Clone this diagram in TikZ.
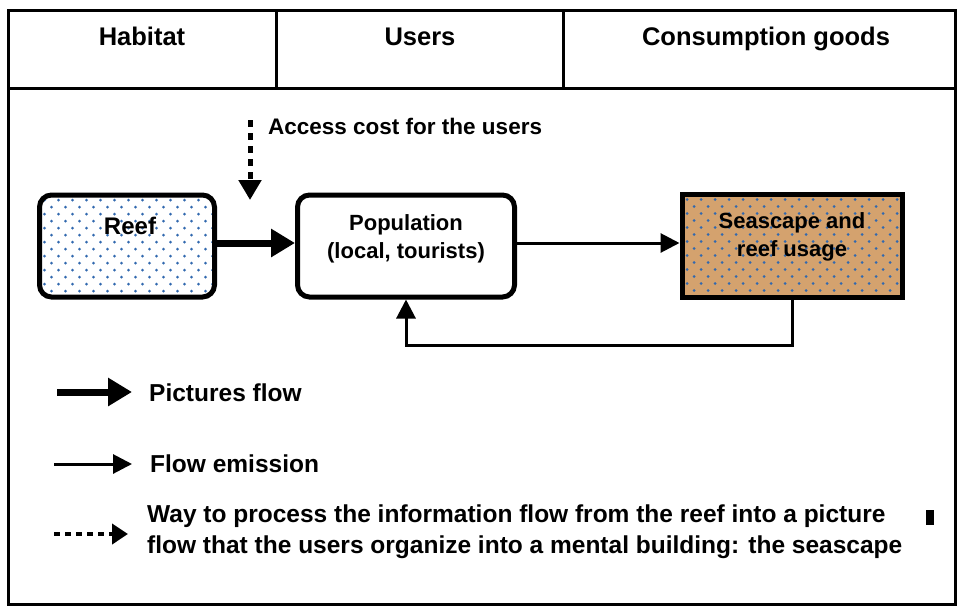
\documentclass[tikz,border=0pt]{standalone}
\usepackage{fontspec}
\setmainfont{Liberation Sans}
\usetikzlibrary{arrows.meta}
\definecolor{sand}{RGB}{212,162,110}
\definecolor{dotblue}{RGB}{50,105,175}
\begin{document}
\begin{tikzpicture}[x=1pt,y=-1pt,
  frameline/.style={line width=3pt},
  headtext/.style={font=\bfseries\fontsize{25.5}{30}\selectfont, inner sep=0pt, anchor=base},
  boxtext/.style={font=\bfseries\fontsize{22}{28}\selectfont, align=center, inner sep=0pt},
  legendtext/.style={font=\bfseries\fontsize{24.5}{31}\selectfont, align=left, anchor=west, inner sep=0pt},
  stipple/.style={path picture={
    \foreach \j in {0,...,16}{
      \foreach \i in {0,...,17}{
        \fill[dotblue] ([xshift={(\i*14+mod(\j,2)*7+5)*1pt}, yshift={-(\j*7+5)*1pt}]path picture bounding box.north west) circle (1.5pt);
      }
    }
  }},
  roundbox/.style={draw, line width=5pt, rounded corners=12pt},
  squarebox/.style={draw, line width=5pt},
  picflow/.style={line width=7pt, -{Triangle[length=24pt,width=27pt]}},
  emission/.style={line width=3pt, -{Triangle[length=19pt,width=19pt]}},
  process/.style={line width=5pt, dash pattern=on 7pt off 6pt, -{Triangle[length=20pt,width=22pt]}},
  processkey/.style={line width=4pt, dash pattern=on 6pt off 5pt, -{Triangle[length=16pt,width=20pt]}},
]
\useasboundingbox (0,0) rectangle (959,608);

% outer frame and header row
\draw[frameline] (8,10) rectangle (955,604);
\draw[frameline] (8,88) -- (955,88);
\draw[frameline] (276,10) -- (276,88);
\draw[frameline] (563,10) -- (563,88);
\node[headtext] (habitat) at (142,45) {Habitat};
\node[headtext] (users) at (420,45) {Users};
\node[headtext] (goods) at (766,45) {Consumption goods};

% main boxes
\node[roundbox, fill=white, stipple, minimum width=175pt, minimum height=102pt] (reef) at (127,246) {};
\node[roundbox, fill=white, minimum width=217pt, minimum height=102pt] (pop) at (406,246) {};
\node[squarebox, fill=sand, stipple, minimum width=220pt, minimum height=103pt] (sea) at (792,246) {};

\node[boxtext, font=\bfseries\fontsize{24}{28}\selectfont] (reeflabel) at (130,226) {Reef};
\node[boxtext] (poplabel) at (406,239) {Population\\(local, tourists)};
\node[boxtext] (sealabel) at (792,237) {Seascape and\\reef usage};

% flows between boxes
\draw[picflow] ([yshift=3pt]reef.east) -- ([yshift=3pt]pop.west);
\draw[emission] ([yshift=3pt]pop.east) -- ([yshift=3pt]sea.west);
\draw[emission, line join=miter] (sea.south) -- ++(0,45) -| (pop.south);

% access cost
\coordinate (accA) at (250,120);
\coordinate (accB) at (250,200);
\draw[process] (accA) -- (accB);
\node[legendtext, font=\bfseries\fontsize{22.5}{28}\selectfont] (acclabel) at (268,126) {Access cost for the users};

% legend
\coordinate (kpA) at (57,392);
\coordinate (kpB) at (132,392);
\draw[picflow] (kpA) -- (kpB);
\node[legendtext] (kplabel) at (149,393) {Pictures flow};

\coordinate (keA) at (54,464);
\coordinate (keB) at (132,464);
\draw[emission] (keA) -- (keB);
\node[legendtext] (kelabel) at (150,464) {Flow emission};

\coordinate (kdA) at (54,534);
\coordinate (kdB) at (128,534);
\draw[processkey] (kdA) -- (kdB);
\node[legendtext] (kdlabel) at (147,532) {Way to process the information flow from the reef into a picture\\flow that the users organize into a mental building: the seascape};
\node[fill=black, inner sep=0pt, minimum width=8pt, minimum height=15pt] (endsq) at (930,517) {};
\end{tikzpicture}
\end{document}
